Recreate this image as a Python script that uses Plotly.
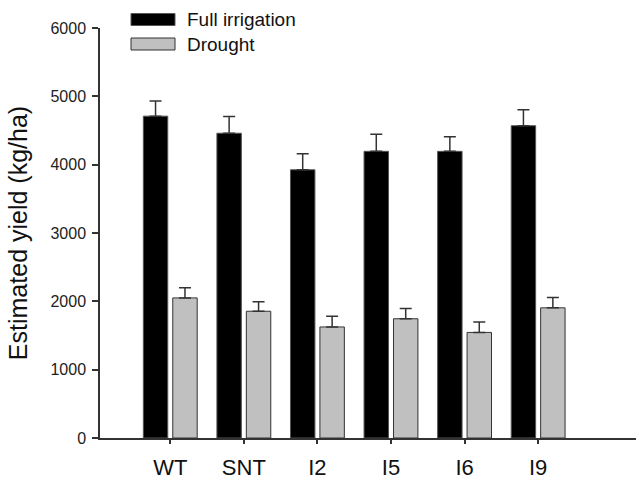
import plotly.graph_objects as go

categories = ["WT", "SNT", "I2", "I5", "I6", "I9"]
full_irrigation = [4710, 4460, 3925, 4195, 4195, 4570]
full_irrigation_err = [220, 245, 235, 250, 215, 235]
drought = [2050, 1855, 1625, 1745, 1545, 1905]
drought_err = [150, 140, 157, 150, 152, 150]
series_names = ["Full irrigation", "Drought"]
y_ticks = [0, 1000, 2000, 3000, 4000, 5000, 6000]

FONT = "Arial, 'Liberation Sans', Helvetica, sans-serif"
AXIS = "#333333"

fig = go.Figure()
fig.add_trace(go.Bar(
    x=categories, y=full_irrigation, name=series_names[0],
    marker=dict(color="#000000", line=dict(color="#555555", width=1)),
    error_y=dict(type="data", array=full_irrigation_err, symmetric=False,
                 arrayminus=[0] * len(categories), color=AXIS, thickness=1.5, width=6),
))
fig.add_trace(go.Bar(
    x=categories, y=drought, name=series_names[1],
    marker=dict(color="#c0c0c0", line=dict(color="#333333", width=1)),
    error_y=dict(type="data", array=drought_err, symmetric=False,
                 arrayminus=[0] * len(categories), color=AXIS, thickness=1.5, width=6),
))

# Legend drawn manually to match the wide swatches of the original
legend_fills = ["#000000", "#c0c0c0"]
legend_lines = ["#555555", "#333333"]
legend_y = [19.5, 44]
for name, fill, lc, yc in zip(series_names, legend_fills, legend_lines, legend_y):
    fig.add_shape(type="rect", xref="paper", yref="paper",
                  x0=(131 - 100) / 536, x1=(175 - 100) / 536,
                  y0=(481 - 43 - (yc + 6)) / 410, y1=(481 - 43 - (yc - 6)) / 410,
                  fillcolor=fill, line=dict(color=lc, width=1))
    fig.add_annotation(text=name, xref="paper", yref="paper",
                       x=(185 - 100) / 536, y=(481 - 43 - yc) / 410,
                       xanchor="left", yanchor="middle", showarrow=False,
                       font=dict(family=FONT, size=19, color="#111111"))

fig.update_layout(
    width=636, height=481,
    margin=dict(l=100, r=0, t=28, b=43),
    paper_bgcolor="white", plot_bgcolor="white",
    barmode="group", bargap=0.2, bargroupgap=0.17,
    showlegend=False,
    font=dict(family=FONT, color="#111111"),
)
fig.update_xaxes(
    type="category", range=[-0.955, 6.33], automargin=False,
    showline=True, linecolor=AXIS, linewidth=1.5,
    ticks="outside", ticklen=4, tickcolor=AXIS, tickwidth=1.5,
    showgrid=False, zeroline=False,
    tickfont=dict(family=FONT, size=22, color="#111111"),
    ticklabelstandoff=5,
)
fig.update_yaxes(
    range=[0, 6000], tickvals=y_ticks, automargin=False,
    showline=True, linecolor=AXIS, linewidth=1.5,
    ticks="outside", ticklen=6, tickcolor=AXIS, tickwidth=1.5,
    showgrid=False, zeroline=False,
    tickfont=dict(family=FONT, size=16, color="#222222"),
    ticklabelstandoff=3,
    title=dict(text="Estimated yield (kg/ha)", standoff=16,
               font=dict(family=FONT, size=25, color="#111111")),
)

fig.write_html("out.html")
